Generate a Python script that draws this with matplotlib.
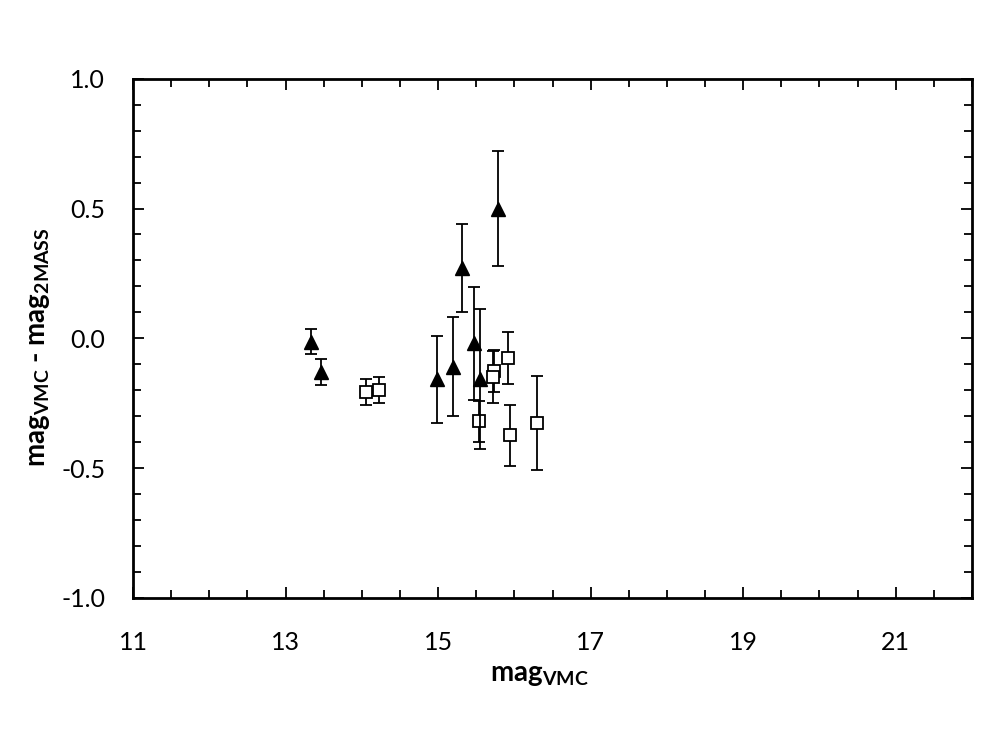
import matplotlib
matplotlib.use("Agg")
import matplotlib.pyplot as plt
from matplotlib.ticker import MultipleLocator, FixedLocator, FormatStrFormatter

plt.rcParams['font.family'] = ['Lato', 'DejaVu Sans']
plt.rcParams['mathtext.fontset'] = 'custom'
plt.rcParams['mathtext.rm'] = 'Lato'
plt.rcParams['mathtext.bf'] = 'Lato:bold'
plt.rcParams['axes.unicode_minus'] = False

# Filled triangles
tri_x = [13.33, 13.47, 14.99, 15.19, 15.31, 15.47, 15.55, 15.79]
tri_y = [-0.014, -0.13, -0.158, -0.11, 0.27, -0.02, -0.158, 0.50]
tri_err = [0.048, 0.05, 0.168, 0.19, 0.17, 0.217, 0.27, 0.22]

# Open squares
sq_x = [14.06, 14.22, 15.54, 15.73, 15.72, 15.92, 15.94, 16.30]
sq_y = [-0.208, -0.20, -0.32, -0.127, -0.149, -0.075, -0.374, -0.326]
sq_err = [0.05, 0.05, 0.08, 0.08, 0.10, 0.10, 0.117, 0.18]

x_ticks = [11, 13, 15, 17, 19, 21]

fig = plt.figure(figsize=(10, 7.5), dpi=100)
ax = fig.add_axes([0.133, 0.203, 0.839, 0.692])

ax.errorbar(sq_x, sq_y, yerr=sq_err, fmt='s', mfc='white', mec='black',
            mew=1.3, ms=8.5, ecolor='black', elinewidth=1.3, capsize=4.3,
            capthick=1.3, zorder=2)
ax.errorbar(tri_x, tri_y, yerr=tri_err, fmt='^', mfc='black', mec='black',
            ms=10, ecolor='black', elinewidth=1.3, capsize=4.3,
            capthick=1.3, zorder=3)

ax.set_xlim(11, 22)
ax.set_ylim(-1.0, 1.0)
ax.xaxis.set_major_locator(FixedLocator(x_ticks))
ax.xaxis.set_minor_locator(MultipleLocator(0.5))
ax.yaxis.set_major_locator(MultipleLocator(0.5))
ax.yaxis.set_minor_locator(MultipleLocator(0.1))
ax.tick_params(which='both', direction='in', top=True, right=True, width=1.3)
ax.tick_params(which='major', length=8, labelsize=18)
ax.tick_params(which='minor', length=6)
ax.tick_params(axis='x', which='major', pad=24)
ax.tick_params(axis='y', which='major', pad=20)
ax.yaxis.set_major_formatter(FormatStrFormatter('%.1f'))
for s in ax.spines.values():
    s.set_linewidth(2.0)

ax.set_xlabel(r'mag$_{\mathbf{VMC}}$', fontsize=20, fontweight='bold')
ax.set_ylabel(r'mag$_{\mathbf{VMC}}$ - mag$_{\mathbf{2MASS}}$',
              fontsize=20, fontweight='bold')
ax.xaxis.set_label_coords(0.484, -0.124)
ax.yaxis.set_label_coords(-0.096, 0.482)

fig.savefig('out.png', dpi=100)
